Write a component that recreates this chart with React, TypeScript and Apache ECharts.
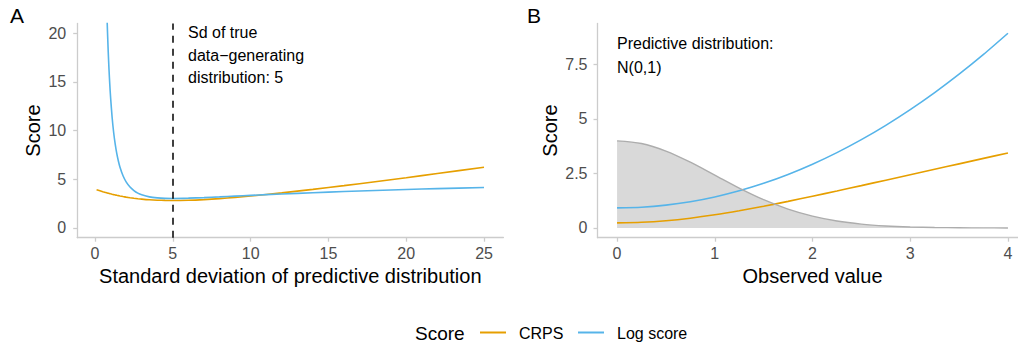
import React, { useEffect, useRef } from "react";
import * as echarts from "echarts";

// Panel A: expected scores against the sd of the predictive distribution
const sdValues = [
  0.1, 0.5, 0.7, 0.75, 0.8, 0.85, 0.9, 0.95, 1, 1.1, 1.2, 1.3, 1.4, 1.5, 1.6, 1.8, 2,
  2.25, 2.5, 2.75, 3, 3.5, 4, 4.5, 5, 6, 7, 8, 9, 10, 12, 14, 16, 18, 20, 22, 25,
];
const crpsBySd = [
  3.934, 3.727, 3.633, 3.611, 3.589, 3.567, 3.546, 3.525, 3.504, 3.464, 3.426, 3.389,
  3.353, 3.319, 3.286, 3.224, 3.168, 3.105, 3.05, 3.002, 2.96, 2.895, 2.852, 2.829,
  2.821, 2.846, 2.914, 3.014, 3.137, 3.279, 3.603, 3.963, 4.348, 4.75, 5.165, 5.589,
  6.237,
];
const logScoreBySd = [
  1249.6, 50.23, 26.07, 22.85, 20.23, 18.06, 16.25, 14.72, 13.42, 11.35, 9.78, 8.58,
  7.63, 6.88, 6.27, 5.36, 4.74, 4.2, 3.84, 3.58, 3.41, 3.19, 3.09, 3.04, 3.03, 3.06,
  3.12, 3.19, 3.27, 3.35, 3.49, 3.62, 3.74, 3.85, 3.95, 4.04, 4.16,
];
const trueSd = 5;

// Panel B: scores of an N(0,1) forecast against the observed value
const observedValues = [
  0, 0.25, 0.5, 0.75, 1, 1.25, 1.5, 1.75, 2, 2.25, 2.5, 2.75, 3, 3.25, 3.5, 3.75, 4,
];
const crpsByObs = [
  0.234, 0.259, 0.331, 0.448, 0.602, 0.787, 0.994, 1.218, 1.453, 1.694, 1.94, 2.188,
  2.437, 2.686, 2.936, 3.186, 3.436,
];
const logScoreByObs = [
  0.919, 0.95, 1.044, 1.2, 1.419, 1.7, 2.044, 2.45, 2.919, 3.45, 4.044, 4.7, 5.419,
  6.2, 7.044, 7.95, 8.919,
];
// predictive density (x10) shown behind the scores
const densityByObs = [
  3.989, 3.867, 3.521, 3.011, 2.42, 1.827, 1.295, 0.863, 0.54, 0.317, 0.175, 0.091,
  0.044, 0.02, 0.009, 0.004, 0.001,
];

const sdTicks = [0, 5, 10, 15, 20, 25];
const scoreTicksA = [0, 5, 10, 15, 20];
const obsTicks = [0, 1, 2, 3, 4];
const scoreTicksB = [0, 2.5, 5, 7.5];

const ORANGE = "#E69F00";
const BLUE = "#56B4E9";
const FONT = "'Liberation Sans', Arial, Helvetica, sans-serif";
const AXIS_GREY = "#cccccc";
const LABEL_GREY = "#4d4d4d";

const pairs = (xs: number[], ys: number[]) => xs.map((x, i) => [x, ys[i]]);

function valueAxis(
  gridIndex: number,
  min: number,
  max: number,
  ticks: number[],
  margin: number
) {
  return {
    type: "value" as const,
    gridIndex,
    min,
    max,
    splitLine: { show: false },
    axisLine: { show: true, onZero: false, lineStyle: { color: AXIS_GREY, width: 1.3 } },
    axisTick: {
      show: true,
      length: 4,
      customValues: ticks,
      lineStyle: { color: AXIS_GREY, width: 1.3 },
    },
    axisLabel: {
      customValues: ticks,
      margin,
      color: LABEL_GREY,
      fontSize: 16,
      fontFamily: FONT,
    },
  };
}

function text(
  str: string,
  x: number,
  y: number,
  size: number,
  opts: { align?: string; rotation?: number; fill?: string } = {}
) {
  return {
    type: "text",
    x,
    y,
    rotation: opts.rotation ?? 0,
    silent: true,
    style: {
      text: str,
      fill: opts.fill ?? "#000000",
      fontSize: size,
      fontFamily: FONT,
      align: opts.align ?? "left",
      verticalAlign: "middle",
    },
  };
}

export default function App() {
  const ref = useRef<HTMLDivElement>(null);

  useEffect(() => {
    if (!ref.current) return;
    const chart = echarts.init(ref.current, undefined, { renderer: "svg" });

    const lineSeries = (
      name: string,
      idx: number,
      xs: number[],
      ys: number[],
      color: string
    ) => ({
      type: "line" as const,
      name,
      xAxisIndex: idx,
      yAxisIndex: idx,
      data: pairs(xs, ys),
      showSymbol: false,
      symbol: "none",
      smooth: 0.25,
      clip: true,
      lineStyle: { color, width: 1.6 },
      itemStyle: { color },
    });

    chart.setOption({
      animation: false,
      backgroundColor: "#ffffff",
      grid: [
        { left: 77.2, top: 23.5, width: 426.2, height: 214.2 },
        { left: 597.5, top: 23.5, width: 430, height: 214.2 },
      ],
      xAxis: [
        valueAxis(0, -1.145, 26.245, sdTicks, 8),
        valueAxis(1, -0.2, 4.2, obsTicks, 8),
      ],
      yAxis: [
        valueAxis(0, -1, 21, scoreTicksA, 11),
        valueAxis(1, -0.446, 9.365, scoreTicksB, 10),
      ],
      series: [
        {
          ...lineSeries("CRPS", 0, sdValues, crpsBySd, ORANGE),
          markLine: {
            silent: true,
            symbol: ["none", "none"],
            label: { show: false },
            lineStyle: { color: "#000000", type: [7, 6], width: 1.5 },
            data: [{ xAxis: trueSd }],
          },
        },
        lineSeries("Log score", 0, sdValues, logScoreBySd, BLUE),
        lineSeries("CRPS", 1, observedValues, crpsByObs, ORANGE),
        lineSeries("Log score", 1, observedValues, logScoreByObs, BLUE),
        {
          type: "line",
          name: "Density",
          xAxisIndex: 1,
          yAxisIndex: 1,
          data: pairs(observedValues, densityByObs),
          showSymbol: false,
          symbol: "none",
          smooth: 0.3,
          silent: true,
          lineStyle: { color: "#adadad", width: 1.4 },
          areaStyle: { color: "#b3b3b3", opacity: 0.5 },
        },
      ],
      graphic: [
        text("A", 10, 15, 21),
        text("B", 527, 15, 21),
        text("Sd of true", 188, 32.5, 16),
        text("data\u2212generating", 188, 55, 16),
        text("distribution: 5", 188, 77.5, 16),
        text("Predictive distribution:", 617, 43.5, 16),
        text("N(0,1)", 617, 67, 16),
        text("Score", 33, 130.5, 20, { align: "center", rotation: Math.PI / 2 }),
        text("Score", 550, 130.5, 20, { align: "center", rotation: Math.PI / 2 }),
        text("Standard deviation of predictive distribution", 290.3, 275.5, 20, {
          align: "center",
        }),
        text("Observed value", 812.5, 275.5, 20, { align: "center" }),
        // legend
        text("Score", 415, 333, 19),
        {
          type: "line",
          silent: true,
          shape: { x1: 480, y1: 332.5, x2: 506, y2: 332.5 },
          style: { stroke: ORANGE, lineWidth: 2 },
        },
        text("CRPS", 519, 333, 16),
        {
          type: "line",
          silent: true,
          shape: { x1: 578, y1: 332.5, x2: 604, y2: 332.5 },
          style: { stroke: BLUE, lineWidth: 2 },
        },
        text("Log score", 617, 333, 16),
      ],
    });

    return () => chart.dispose();
  }, []);

  // the drawing surface is a little wider than the visible frame so the
  // right panel's axis runs out past the edge
  return (
    <div
      style={{
        position: "absolute",
        left: 0,
        top: 0,
        width: 1018,
        height: 347,
        overflow: "hidden",
      }}
    >
      <div ref={ref} style={{ width: 1040, height: 347 }} />
    </div>
  );
}
